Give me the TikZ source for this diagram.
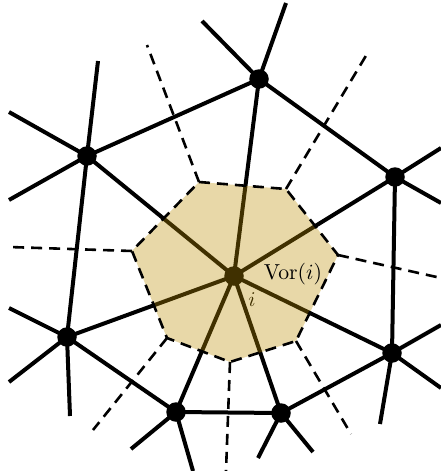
\documentclass[tikz,border=0pt]{standalone}
\definecolor{cellfill}{RGB}{188,141,0}
\tikzset{
  dot/.style={circle,fill=black,inner sep=0pt,minimum size=19.5pt},
  edge/.style={line width=4pt},
  vedge/.style={line width=2.6pt,dash pattern=on 11pt off 7pt},
  cell/.style={fill=cellfill,fill opacity=0.34}
}
\begin{document}
\begin{tikzpicture}[x=1pt,y=-1pt]
\useasboundingbox (0,0) rectangle (441,471);
\clip (0,0) rectangle (441,471);
% Delaunay sites
\coordinate (I) at (234,276);
\coordinate (A) at (87,156);
\coordinate (B) at (259,79);
\coordinate (C) at (395,177);
\coordinate (D) at (392,353);
\coordinate (E) at (281,413);
\coordinate (F) at (176,412);
\coordinate (G) at (67,337);
% free ends
\coordinate (a1) at (98,61);
\coordinate (a2) at (9,112);
\coordinate (a3) at (9,200);
\coordinate (b1) at (202,21);
\coordinate (b2) at (286,3);
\coordinate (c1) at (441,148);
\coordinate (c2) at (441,203);
\coordinate (d1) at (441,325);
\coordinate (d2) at (441,388);
\coordinate (d3) at (380,424);
\coordinate (e1) at (258,458);
\coordinate (e2) at (313,452);
\coordinate (f1) at (131,449);
\coordinate (f2) at (193,471);
\coordinate (g1) at (9,308);
\coordinate (g2) at (9,382);
\coordinate (g3) at (70,416);
% Voronoi vertices
\coordinate (v1) at (199,182);
\coordinate (v2) at (286,189);
\coordinate (v3) at (338,255);
\coordinate (v4) at (296,341);
\coordinate (v5) at (230,362);
\coordinate (v6) at (167,338);
\coordinate (v7) at (132,251);
\coordinate (w1) at (147,45);
\coordinate (w2) at (367,54);
\coordinate (w3) at (441,278);
\coordinate (w4) at (351,434);
\coordinate (w5) at (226,471);
\coordinate (w6) at (93,430);
\coordinate (w7) at (9,247);
% edges
\draw[edge] (I) -- (A) (I) -- (B) (I) -- (C) (I) -- (D) (I) -- (E) (I) -- (F) (I) -- (G);
\draw[edge] (A) -- (B) -- (C) -- (D) -- (E) -- (F) -- (G) -- cycle;
\draw[edge] (A) -- (a1) (A) -- (a2) (A) -- (a3);
\draw[edge] (B) -- (b1) (B) -- (b2);
\draw[edge] (C) -- (c1) (C) -- (c2);
\draw[edge] (D) -- (d1) (D) -- (d2) (D) -- (d3);
\draw[edge] (E) -- (e1) (E) -- (e2);
\draw[edge] (F) -- (f1) (F) -- (f2);
\draw[edge] (G) -- (g1) (G) -- (g2) (G) -- (g3);
% dots
\foreach \p in {I,A,B,C,D,E,F,G} \node[dot] (n\p) at (\p) {};
\node[scale=2.1,inner sep=0pt] (ilab) at (252,300) {$i$};
% Voronoi cell
\fill[cell] (v1) -- (v2) -- (v3) -- (v4) -- (v5) -- (v6) -- (v7) -- cycle;
\draw[vedge] (v1) -- (v2) -- (v3) -- (v4) -- (v5) -- (v6) -- (v7) -- cycle;
\draw[vedge] (v1) -- (w1) (v2) -- (w2) (v3) -- (w3) (v4) -- (w4) (v5) -- (w5) (v6) -- (w6) (v7) -- (w7);
\node[scale=2.17,inner sep=0pt] (vor) at (293,274) {$\mathrm{Vor}(i)$};
\end{tikzpicture}
\end{document}
